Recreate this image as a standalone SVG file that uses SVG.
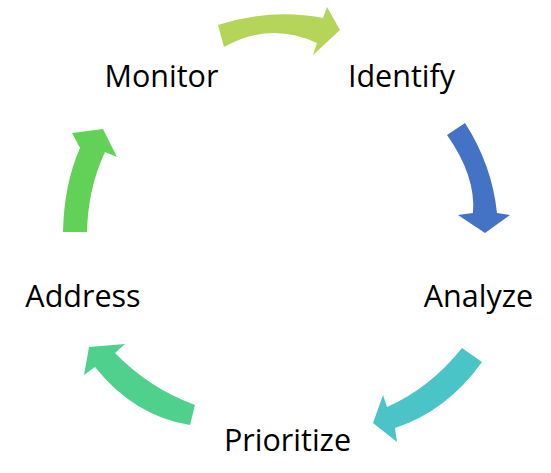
<svg xmlns="http://www.w3.org/2000/svg" width="551" height="473" viewBox="0 0 551 473">
<style>
text{font-family:"Open Sans","Noto Sans","Liberation Sans",sans-serif;font-size:30.5px;fill:#000;text-anchor:middle}
</style>
<rect width="551" height="473" fill="#fff"/>
<g id="connectors">
<path id="a1" d="M224,47 L218,25 Q272,8 323,18 L327,7 L340,30 L313,55 L317,43 Q270,21 224,47 Z" fill="#B5D55A"/>
<path id="a2" d="M447,135 L465,123 Q492,165 497,213 L510,215 L485,233 L458,215 L473,213 Q476,176 447,135 Z" fill="#4472C4"/>
<path id="a3" d="M462,348 L482,362 Q447,411 395,428 L397,442 L373,423 L383,395 L387,407 Q430,388 462,348 Z" fill="#4BC4C8"/>
<path id="a4" d="M195,405 L190,425 Q134,416 95,367 L84,375 L89,347 L125,344 L115,353 Q149,388 195,405 Z" fill="#4FD08C"/>
<path id="a5" d="M63,232 L87,232 Q88,188 105,152 L117,157 L103,129 L72,133 L80,148 Q64,184 63,232 Z" fill="#62D158"/>
</g>
<g id="monitor"><text x="161.5" y="87">Monitor</text></g>
<g id="identify"><text x="401.5" y="87">Identify</text></g>
<g id="analyze"><text x="478.5" y="307">Analyze</text></g>
<g id="address"><text x="83" y="307">Address</text></g>
<g id="prioritize"><text x="287.5" y="451">Prioritize</text></g>
</svg>
